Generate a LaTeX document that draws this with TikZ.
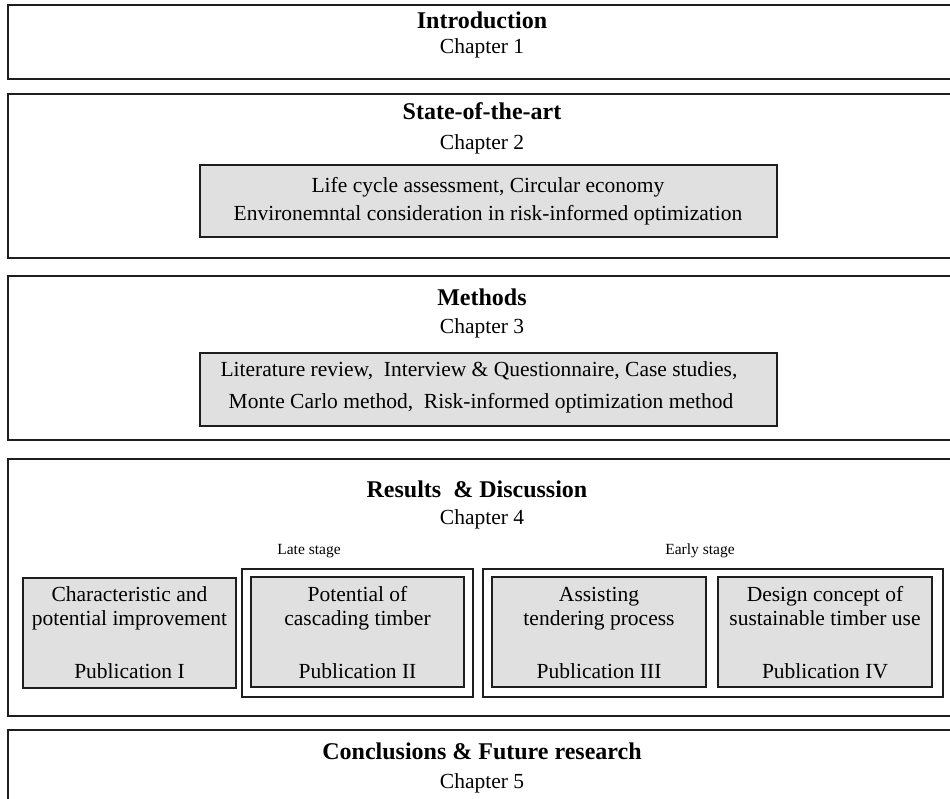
\documentclass[tikz,border=0pt]{standalone}
\usepackage{fontspec}
\setmainfont{Liberation Serif}
\definecolor{boxgray}{HTML}{E0E0E0}
\definecolor{edge}{HTML}{1E1E1E}
\tikzset{
  chapterbox/.style={draw=edge, line width=2.6pt},
  itembox/.style={draw=edge, fill=boxgray, line width=2pt},
  stagebox/.style={draw=edge, line width=1.6pt},
  headtext/.style={anchor=base, inner sep=0pt, font=\fontsize{24}{28}\selectfont\bfseries},
  bodytext/.style={anchor=base, inner sep=0pt, font=\fontsize{21.5}{26}\selectfont},
  smalltext/.style={anchor=base, inner sep=0pt, font=\fontsize{15.5}{18}\selectfont},
}
\begin{document}
\begin{tikzpicture}[x=1pt, y=-1pt]
\useasboundingbox (0,0) rectangle (950,799);
\clip (0,0) rectangle (950,799);

% Chapter frames
\draw[chapterbox] (8,5) rectangle (957,79);
\draw[chapterbox] (8,94) rectangle (957,258);
\draw[chapterbox] (8,276) rectangle (957,440);
\draw[chapterbox] (8,459) rectangle (957,716);
\draw[chapterbox] (8,730) rectangle (957,830);

% Chapter 1
\node[headtext] (introT) at (482,29) {Introduction};
\node[bodytext] (introC) at (482,54) {Chapter 1};

% Chapter 2
\node[headtext] (stateT) at (482,120) {State-of-the-art};
\node[bodytext] (stateC) at (482,150) {Chapter 2};
\draw[itembox] (200,165) rectangle (777,237);
\node[bodytext] (stateA) at (488,193) {Life cycle assessment, Circular economy};
\node[bodytext] (stateB) at (488,221) {Environemntal consideration in risk-informed optimization};

% Chapter 3
\node[headtext] (methT) at (482,306) {Methods};
\node[bodytext] (methC) at (482,334) {Chapter 3};
\draw[itembox] (200,353) rectangle (777,426);
\node[bodytext] (methA) at (479,377) {Literature review,\ \ Interview \& Questionnaire, Case studies,};
\node[bodytext] (methB) at (481,408) {Monte Carlo method,\ \ Risk-informed optimization method};

% Chapter 4
\node[headtext] (resT) at (477,497) {Results\ \ \& Discussion};
\node[bodytext] (resC) at (482,524) {Chapter 4};
\node[smalltext] (late) at (309,554) {Late stage};
\node[smalltext] (early) at (700,554) {Early stage};

\draw[stagebox] (242,569) rectangle (473,697);
\draw[stagebox] (483,569) rectangle (943,697);

\draw[itembox] (23,578) rectangle (236,688);
\draw[itembox] (251,577) rectangle (464,687);
\draw[itembox] (492,577) rectangle (706,687);
\draw[itembox] (718,577) rectangle (932,687);

\node[bodytext] (p1a) at (129.5,601) {Characteristic and};
\node[bodytext] (p1b) at (129.5,625) {potential improvement};
\node[bodytext] (p1c) at (129.5,678) {Publication I};

\node[bodytext] (p2a) at (357.5,601) {Potential of};
\node[bodytext] (p2b) at (357.5,625) {cascading timber};
\node[bodytext] (p2c) at (357.5,678) {Publication II};

\node[bodytext] (p3a) at (599,601) {Assisting};
\node[bodytext] (p3b) at (599,625) {tendering process};
\node[bodytext] (p3c) at (599,678) {Publication III};

\node[bodytext] (p4a) at (825,601) {Design concept of};
\node[bodytext] (p4b) at (825,625) {sustainable timber use};
\node[bodytext] (p4c) at (825,678) {Publication IV};

% Chapter 5
\node[headtext] (concT) at (482,759) {Conclusions \& Future research};
\node[bodytext] (concC) at (482,788) {Chapter 5};
\end{tikzpicture}
\end{document}
